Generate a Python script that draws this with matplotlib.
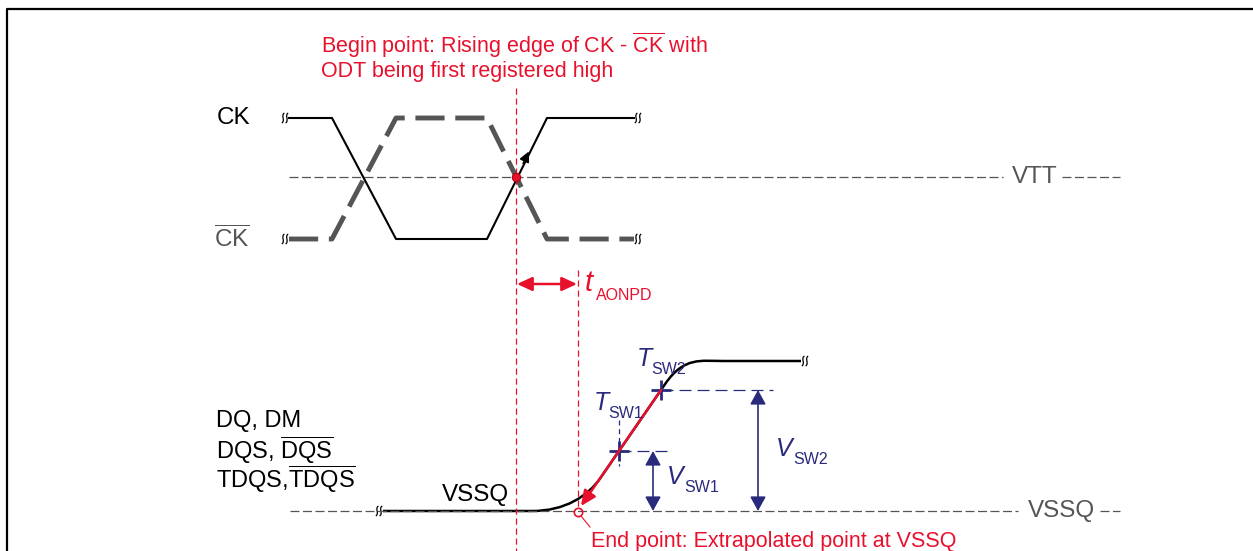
import matplotlib.pyplot as plt
from matplotlib.path import Path
from matplotlib.patches import PathPatch

plt.rcParams['font.family'] = ['Liberation Sans', 'DejaVu Sans']
plt.rcParams['mathtext.fontset'] = 'custom'
plt.rcParams['mathtext.rm'] = 'Liberation Sans'
plt.rcParams['mathtext.it'] = 'Liberation Sans:italic'

# Clock waveforms (pixel coordinates of the drawing)
ck_x = [289, 332, 396, 487, 547, 634]
ck_y = [118, 118, 239, 239, 118, 118]
ckb_y = [239, 239, 118, 118, 239, 239]
vtt_y = 177
vssq_y = 511

# DQ transition
dq_low_x = [383, 532]
dq_high_x = [723, 801]
dq_high_y = 361
tsw1 = (619, 451)
tsw2 = (661, 390)
begin_x = 516
end_x = 578

# switching-point labels: (letter, subscript, x, y)
sw_labels = [('T', 'SW1', 594, 403), ('T', 'SW2', 637, 359),
             ('V', 'SW1', 667, 477), ('V', 'SW2', 776, 449)]

red = '#E8112D'
navy = '#2A2A7C'
gray = '#555555'
gdash = (7.2, 2.8)

fig = plt.figure(figsize=(12.53, 5.51), dpi=100)
ax = fig.add_axes([0, 0, 1, 1])
ax.set_xlim(0, 1253)
ax.set_ylim(551, 0)
ax.axis('off')


def brk(cx, cy, color='black'):
    # little double "s" break mark
    for off in (-1.9, 1.9):
        x0 = cx + off
        p = Path([(x0 + 1.3, cy - 5), (x0 - 2.6, cy - 2.5), (x0 + 2.6, cy + 2.5), (x0 - 1.3, cy + 5)],
                 [Path.MOVETO, Path.CURVE4, Path.CURVE4, Path.CURVE4])
        ax.add_patch(PathPatch(p, fill=False, ec=color, lw=0.9))


# frame
ax.plot([7, 7, 1253], [551, 9, 9], color='black', lw=1.6, solid_capstyle='butt')

# reference levels
ax.plot([289, 1003], [vtt_y, vtt_y], color=gray, lw=0.9, dashes=gdash)
ax.plot([1062, 1120], [vtt_y, vtt_y], color=gray, lw=0.9, dashes=gdash)
ax.text(1034.5, vtt_y, 'VTT', color=gray, fontsize=17.5, ha='center', va='center')
ax.plot([290, 1018], [vssq_y, vssq_y], color=gray, lw=0.9, dashes=gdash)
ax.plot([1100, 1120], [vssq_y, vssq_y], color=gray, lw=0.9, dashes=gdash)
ax.text(1061, vssq_y, 'VSSQ', color=gray, fontsize=17.5, ha='center', va='center')

# clocks
ax.plot(ck_x, ckb_y, color=gray, lw=3.5, dashes=(6, 2.2), solid_capstyle='butt')
ax.plot(ck_x, ck_y, color='black', lw=1.5)
for bx, by in [(ck_x[0] - 4, ck_y[0]), (ck_x[0] - 4, ckb_y[0]), (ck_x[-1] + 4, ck_y[-1]),
               (ck_x[-1] + 4, ckb_y[-1]), (dq_low_x[0] - 4, vssq_y), (dq_high_x[1] + 4, dq_high_y)]:
    brk(bx, by)
ax.annotate('', xy=(530, 149), xytext=(522, 166),
            arrowprops=dict(arrowstyle='-|>,head_length=0.5,head_width=0.25', color='black',
                            lw=1.2, mutation_scale=12))

ax.text(250, ck_y[0], 'CK', fontsize=17.5, ha='right', va='center')
ax.text(250, ckb_y[0], r'$\overline{\mathrm{CK}}$', fontsize=17.5, ha='right', va='center', color=gray)

# begin point
ax.plot([begin_x, begin_x], [88, 551], color=red, lw=0.9, dashes=(5, 3))
ax.plot(begin_x, vtt_y, 'o', color=red, ms=6, mec='#B00010', mew=0.8)
ax.text(321, 45, r'Begin point: Rising edge of CK - $\overline{\mathrm{CK}}$ with', color=red,
        fontsize=15.5, va='center')
ax.text(321, 71, 'ODT being first registered high', color=red, fontsize=15.5, va='center')

# tAONPD
ax.plot([end_x, end_x], [270, 508], color=red, lw=0.9, dashes=(5, 3))
ax.annotate('', xy=(begin_x + 1, 284), xytext=(end_x - 1, 284),
            arrowprops=dict(arrowstyle='<|-|>,head_length=0.65,head_width=0.3', color=red,
                            lw=1.8, mutation_scale=14, shrinkA=0, shrinkB=0))
ax.text(585, 283, 't', color=red, fontsize=21, style='italic', va='center')
ax.text(596, 295, 'AONPD', color=red, fontsize=11.5, va='center')

# DQ labels
ax.text(216, 421, 'DQ, DM', fontsize=17, va='center')
ax.text(216, 450, r'DQS, $\overline{\mathrm{DQS}}$', fontsize=17, va='center')
ax.text(216, 479, r'TDQS,$\overline{\mathrm{TDQS}}$', fontsize=17, va='center')
ax.text(475, 495, 'VSSQ', fontsize=17.5, ha='center', va='center')

# DQ waveform: flat, curve, straight ramp, curve, flat
dx, dy = tsw2[0] - tsw1[0], tsw2[1] - tsw1[1]
lo = (tsw1[0] - dx * 0.44, tsw1[1] - dy * 0.44)
hi = (tsw2[0] + dx * 0.1, tsw2[1] + dy * 0.1)
verts = [(dq_low_x[0], vssq_y), (dq_low_x[1], vssq_y),
         (dq_low_x[1] + 33, vssq_y), (lo[0] - dx * 0.3, lo[1] - dy * 0.3), lo,
         hi,
         (hi[0] + dx * 0.45, hi[1] + dy * 0.45), (dq_high_x[0] - 22, dq_high_y), (dq_high_x[0], dq_high_y),
         (dq_high_x[1], dq_high_y)]
codes = [Path.MOVETO, Path.LINETO, Path.CURVE4, Path.CURVE4, Path.CURVE4, Path.LINETO,
         Path.CURVE4, Path.CURVE4, Path.CURVE4, Path.LINETO]
ax.add_patch(PathPatch(Path(verts, codes), fill=False, ec='black', lw=1.8))

# extrapolation line
ax.annotate('', xy=(end_x + 3, vssq_y - 5), xytext=tsw2,
            arrowprops=dict(arrowstyle='-|>,head_length=0.65,head_width=0.3', color=red, lw=1.8,
                            mutation_scale=14, shrinkA=0, shrinkB=0))
ax.plot(end_x, vssq_y + 1, 'o', mfc='none', mec=red, ms=6, mew=1.2)
ax.plot([end_x + 3, end_x + 12], [vssq_y + 5, vssq_y + 16], color=red, lw=0.8)
ax.text(591, 541, 'End point: Extrapolated point at VSSQ', color=red, fontsize=15.5, va='center')

# switching points
ax.plot([tsw1[0], tsw1[0]], [420, 466], color=navy, lw=0.9, dashes=(4, 3))
ax.plot([tsw1[0], 667], [tsw1[1], tsw1[1]], color=navy, lw=0.9, dashes=(9.6, 4.8))
ax.plot([tsw2[0], 773], [tsw2[1], tsw2[1]], color=navy, lw=0.9, dashes=(9.6, 4.8))
for p in (tsw1, tsw2):
    ax.plot(*p, marker='+', color=navy, ms=15, mew=2)

vstyle = '<|-|>,head_length=0.62,head_width=0.34'
ax.annotate('', xy=(653, tsw1[1]), xytext=(653, vssq_y),
            arrowprops=dict(arrowstyle=vstyle, color=navy, lw=1.2, mutation_scale=14, shrinkA=0, shrinkB=0))
ax.annotate('', xy=(758, tsw2[1]), xytext=(758, vssq_y),
            arrowprops=dict(arrowstyle=vstyle, color=navy, lw=1.2, mutation_scale=14, shrinkA=0, shrinkB=0))

for letter, sub, lx, ly in sw_labels:
    ax.text(lx, ly, letter, color=navy, fontsize=18, style='italic', va='center')
    ax.text(lx + (14 if letter == 'T' else 17), ly + 10, sub, color=navy, fontsize=11.5, va='center')

fig.savefig('out.png', dpi=100)
